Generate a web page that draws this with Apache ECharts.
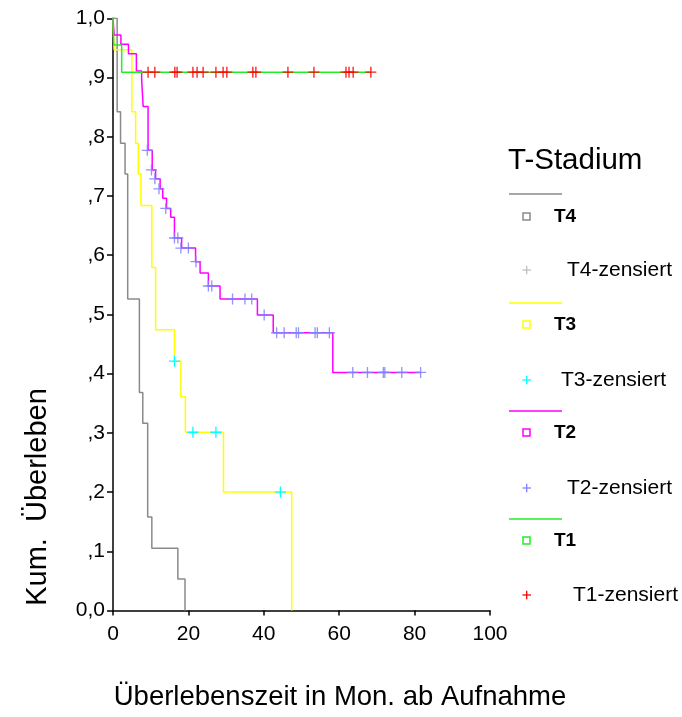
<!DOCTYPE html>
<html>
<head>
<meta charset="utf-8">
<script src="https://cdn.jsdelivr.net/npm/echarts@6/dist/echarts.min.js"></script>
<style>
  html, body { margin: 0; padding: 0; background: #fff; }
  #chart { width: 682px; height: 717px; }
</style>
</head>
<body>
<div id="chart"></div>
<script>
// Kaplan-Meier Stufen: Zeitpunkte (Monate) und kum. Überleben danach
var t4Times = [0, 1.1, 2.0, 3.2, 3.9, 7.0, 7.9, 9.2, 10.3, 17.2, 19.1];
var t4Surv  = [1, 0.842, 0.789, 0.737, 0.526, 0.368, 0.316, 0.158, 0.105, 0.053, 0];

var t3Times = [0, 0.3, 5.0, 6.0, 6.7, 7.4, 10.3, 11.3, 16.3, 18.0, 19.2, 29.3, 47.4];
var t3Surv  = [1, 0.947, 0.842, 0.789, 0.737, 0.684, 0.579, 0.474, 0.421, 0.361, 0.301, 0.2, 0];

var t2Times = [0, 0.3, 2.1, 4.1, 6.2, 7.6, 8.0, 9.3, 10.4, 11.3, 12.5, 13.2, 14.2, 15.3, 16.3, 18.2, 21.9, 23.1, 25.3, 28.4, 38.3, 42.5, 58.3, 81.6];
var t2Surv  = [1, 0.972, 0.956, 0.94, 0.911, 0.896, 0.851, 0.777, 0.744, 0.729, 0.712, 0.696, 0.679, 0.664, 0.629, 0.612, 0.589, 0.57, 0.548, 0.526, 0.499, 0.469, 0.402, 0.402];

var t1Times = [0, 0.2, 2.3, 68.4];
var t1Surv  = [1, 0.955, 0.909, 0.909];

// zensierte Fälle
var t3CensTimes = [16.3, 21.2, 27.3, 44.4];
var t3CensSurv  = [0.421, 0.301, 0.301, 0.2];

var t2CensTimes = [9.1, 10.2, 11.1, 12.2, 14.0, 16.3, 17.2, 18.0, 20.0, 22.0, 25.3, 26.2, 31.7, 35.0, 36.8, 40.1,
                   43.4, 45.4, 48.6, 49.2, 53.6, 54.2, 57.4, 63.6, 67.5, 71.7, 72.1, 76.6, 81.6];
var t2CensSurv  = [0.777, 0.744, 0.729, 0.712, 0.679, 0.629, 0.629, 0.612, 0.612, 0.589, 0.548, 0.548, 0.526, 0.526, 0.526, 0.499,
                   0.469, 0.469, 0.469, 0.469, 0.469, 0.469, 0.469, 0.402, 0.402, 0.402, 0.402, 0.402, 0.402];

var t1CensTimes = [9.3, 11.1, 16.4, 17.0, 21.2, 22.3, 23.9, 27.3, 29.2, 30.2, 37.1, 37.9, 46.4, 53.3, 61.8, 62.6, 63.7, 68.4];
var t1CensSurv  = [0.909, 0.909, 0.909, 0.909, 0.909, 0.909, 0.909, 0.909, 0.909, 0.909, 0.909, 0.909, 0.909, 0.909, 0.909, 0.909, 0.909, 0.909];

var xTicks = [0, 20, 40, 60, 80, 100];

var colT4 = '#8a8a8a', colT3 = '#ffff00', colT2 = '#ff00ff', colT1 = '#22ee22';
var colT3c = '#00ffff', colT2c = '#8080ff', colT1c = '#ff0000', colT4c = '#c0c0c0';

var plus = 'path://M-0.12,-1H0.12V-0.12H1V0.12H0.12V1H-0.12V0.12H-1V-0.12H-0.12Z';

function pairs(xs, ys) {
    var out = [];
    for (var i = 0; i < xs.length; i++) out.push([xs[i], ys[i]]);
    return out;
}

function stepLine(name, xs, ys, color) {
    return {
        name: name, type: 'line', step: 'end', showSymbol: false,
        data: pairs(xs, ys),
        lineStyle: { color: color, width: 1.5 },
        silent: true
    };
}

function censored(name, xs, ys, color, op) {
    return {
        name: name, type: 'scatter', symbol: plus, symbolSize: 11,
        data: pairs(xs, ys), z: 5,
        itemStyle: { color: color, opacity: op },
        silent: true
    };
}

var txt = { fontFamily: 'Liberation Sans, Arial, sans-serif', fill: '#000' };

function legendItems() {
    var g = [];
    g.push({ type: 'text', left: 508, top: 146, style: Object.assign({ text: 'T-Stadium', fontSize: 29.5 }, txt) });
    var items = [
        { line: 194, sq: 217, lab: 'T4', cr: 270, clab: 'T4-zensiert', cx: 567, c: colT4, cc: colT4c },
        { line: 303, sq: 325, lab: 'T3', cr: 380, clab: 'T3-zensiert', cx: 561, c: colT3, cc: colT3c },
        { line: 411, sq: 433, lab: 'T2', cr: 488, clab: 'T2-zensiert', cx: 567, c: colT2, cc: colT2c },
        { line: 519, sq: 541, lab: 'T1', cr: 595, clab: 'T1-zensiert', cx: 573, c: colT1, cc: colT1c }
    ];
    items.forEach(function (it) {
        g.push({ type: 'line', shape: { x1: 509, y1: it.line, x2: 562, y2: it.line }, style: { stroke: it.c, lineWidth: 1.5 } });
        g.push({ type: 'rect', shape: { x: 523, y: it.sq - 4, width: 7, height: 7 }, style: { fill: '#fff', stroke: it.c, lineWidth: 1.5 } });
        g.push({ type: 'text', x: 554, y: it.sq, style: Object.assign({ text: it.lab, fontSize: 19, fontWeight: 'bold', textVerticalAlign: 'middle' }, txt) });
        g.push({ type: 'line', shape: { x1: 522.5, y1: it.cr, x2: 531, y2: it.cr }, style: { stroke: it.cc, lineWidth: 1.3 } });
        g.push({ type: 'line', shape: { x1: 526.7, y1: it.cr - 4.3, x2: 526.7, y2: it.cr + 4.3 }, style: { stroke: it.cc, lineWidth: 1.3 } });
        g.push({ type: 'text', x: it.cx, y: it.cr, style: Object.assign({ text: it.clab, fontSize: 21, textVerticalAlign: 'middle' }, txt) });
    });
    // Achsentitel
    g.push({ type: 'text', x: 340, y: 697, style: Object.assign({ text: 'Überlebenszeit in Mon. ab Aufnahme', fontSize: 27.5, textAlign: 'center', textVerticalAlign: 'middle' }, txt) });
    g.push({ type: 'text', x: 38, y: 497, rotation: Math.PI / 2, style: Object.assign({ text: 'Kum.  Überleben', fontSize: 29, textAlign: 'center', textVerticalAlign: 'middle' }, txt) });
    return g;
}

var myChart = echarts.init(document.getElementById('chart'));

var option = {
    animation: false,
    backgroundColor: '#fff',
    grid: { left: 113, right: 192, top: 18.3, bottom: 106.5 },
    xAxis: {
        type: 'value', min: 0, max: 100, interval: 20,
        axisLine: { lineStyle: { color: '#000', width: 1.5 } },
        axisTick: { show: true, length: 5, lineStyle: { color: '#000', width: 1.5 } },
        axisLabel: { color: '#000', fontSize: 21, margin: 13, fontFamily: 'Liberation Sans, Arial, sans-serif',
            formatter: function (v) { return xTicks.indexOf(v) >= 0 ? String(v) : ''; } },
        splitLine: { show: false }
    },
    yAxis: {
        type: 'value', min: 0, max: 1, interval: 0.1,
        axisLine: { show: true, lineStyle: { color: '#000', width: 1.5 } },
        axisTick: { show: true, length: 6, lineStyle: { color: '#000', width: 1.5 } },
        axisLabel: {
            color: '#000', fontSize: 21, margin: 8, fontFamily: 'Liberation Sans, Arial, sans-serif',
            formatter: function (v) {
                var r = Math.round(v * 10);
                if (r === 0) return '0,0';
                if (r === 10) return '1,0';
                return ',' + r;
            }
        },
        splitLine: { show: false }
    },
    graphic: legendItems(),
    series: [
        stepLine('T4', t4Times, t4Surv, colT4),
        stepLine('T3', t3Times, t3Surv, colT3),
        stepLine('T2', t2Times, t2Surv, colT2),
        stepLine('T1', t1Times, t1Surv, colT1),
        censored('T3-zensiert', t3CensTimes, t3CensSurv, colT3c, 1),
        censored('T2-zensiert', t2CensTimes, t2CensSurv, colT2c, 0.85),
        censored('T1-zensiert', t1CensTimes, t1CensSurv, colT1c, 0.9)
    ]
};

myChart.setOption(option);
</script>
</body>
</html>
